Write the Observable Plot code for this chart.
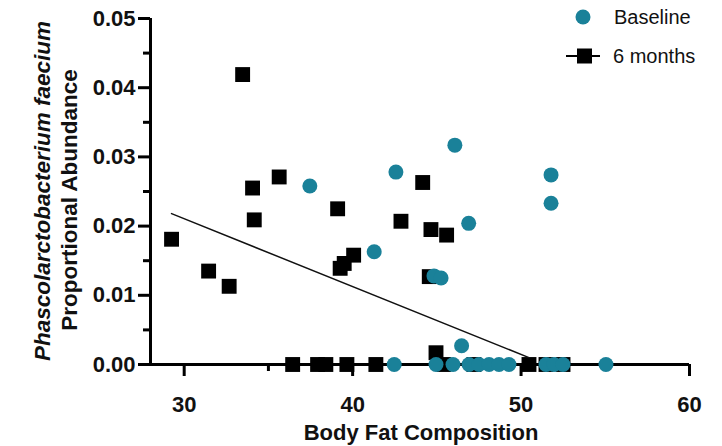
<!DOCTYPE html>
<html>
<head>
<meta charset="utf-8">
<script src="https://cdn.jsdelivr.net/npm/d3@7"></script>
<script src="https://cdn.jsdelivr.net/npm/@observablehq/plot@0.6"></script>
<style>
  html, body { margin: 0; padding: 0; background: #fff; }
  #chart { width: 722px; height: 446px; }
</style>
</head>
<body>
<div id="chart"></div>
<script>
// Baseline (teal circles)
const baselineX = [37.46, 42.57, 46.07, 41.28, 46.89, 51.78, 51.78, 44.83, 45.25, 46.47,
  42.47, 44.95, 45.96, 46.91, 47.5, 48.1, 48.69, 49.28, 51.48, 51.96, 52.49, 55.04];
const baselineY = [0.0258, 0.0278, 0.0317, 0.0163, 0.0204, 0.0274, 0.0233, 0.0128, 0.0125, 0.0027,
  0, 0, 0, 0, 0, 0, 0, 0, 0, 0, 0, 0];

// 6 months (black squares)
const monthX = [29.25, 31.45, 32.67, 33.47, 34.06, 34.16, 35.64, 39.11, 39.26, 39.5, 40.06,
  42.87, 44.16, 44.65, 45.58, 44.55, 44.95,
  36.44, 37.92, 38.41, 39.66, 41.38, 45.42, 47.2, 50.47, 51.48, 52.49];
const monthY = [0.0181, 0.0135, 0.0113, 0.0419, 0.0255, 0.0209, 0.0271, 0.0225, 0.0139, 0.0146, 0.0158,
  0.0207, 0.0263, 0.0195, 0.0187, 0.0127, 0.0017,
  0, 0, 0, 0, 0, 0, 0, 0, 0, 0];

// fitted line (endpoints)
const fitX = [29.25, 50.47];
const fitY = [0.0218, 0.0010];

const xTicks = [30, 40, 50, 60];
const xMinor = [35, 45, 55];
const yTicks = [0, 0.01, 0.02, 0.03, 0.04, 0.05];
const yMinor = [0.005, 0.015, 0.025, 0.035, 0.045];

const seriesNames = ["Baseline", "6 months"];
const xLabel = "Body Fat Composition";
const yLabel1 = "Phascolarctobacterium faecium";
const yLabel2 = "Proportional Abundance";

const teal = "#1a8199";

const baseline = baselineX.map((x, i) => ({x, y: baselineY[i]}));
const months = monthX.map((x, i) => ({x, y: monthY[i]}));
const fit = fitX.map((x, i) => ({x, y: fitY[i]}));

const font = "'Liberation Sans', Arial, sans-serif";

const plot = Plot.plot({
  width: 722,
  height: 446,
  marginLeft: 150,
  marginRight: 33,
  marginTop: 18,
  marginBottom: 82,
  style: {fontFamily: font, background: "#fff", overflow: "visible"},
  x: {domain: [28, 60]},
  y: {domain: [0, 0.05]},
  marks: [
    Plot.axisX({ticks: xTicks, tickSize: 12, tickPadding: 20, strokeWidth: 3, stroke: "#000",
      fill: "#111", fontSize: 22, fontWeight: "bold", tickFormat: d => String(d), label: null}),
    Plot.axisX({ticks: xMinor, tickSize: 7, strokeWidth: 3, stroke: "#000", tickFormat: () => "", label: null}),
    Plot.axisY({ticks: yTicks, tickSize: 12, tickPadding: 3, strokeWidth: 3, stroke: "#000",
      fill: "#111", fontSize: 22, fontWeight: "bold", tickFormat: d3.format(".2f"), label: null}),
    Plot.axisY({ticks: yMinor, tickSize: 7, strokeWidth: 3, stroke: "#000", tickFormat: () => "", label: null}),
    Plot.ruleY([0], {stroke: "#000", strokeWidth: 3}),
    Plot.ruleX([28], {stroke: "#000", strokeWidth: 3}),
    Plot.dot(months, {x: "x", y: "y", symbol: "square", r: 8.4, fill: "#000", stroke: null}),
    Plot.line(fit, {x: "x", y: "y", stroke: "#111", strokeWidth: 1.5}),
    Plot.dot(baseline, {x: "x", y: "y", symbol: "circle", r: 7.5, fill: teal, stroke: null})
  ]
});

document.getElementById("chart").appendChild(plot);

const svg = d3.select(plot);
// axis labels
svg.append("text")
  .attr("transform", "translate(421,440)")
  .attr("text-anchor", "middle")
  .attr("font-family", font).attr("font-size", 22).attr("font-weight", "bold").attr("fill", "#111")
  .text(xLabel);
svg.append("text")
  .attr("transform", "translate(50,191) rotate(-90)")
  .attr("text-anchor", "middle")
  .attr("font-family", font).attr("font-size", 22.5).attr("font-weight", "bold")
  .attr("font-style", "italic").attr("fill", "#111")
  .text(yLabel1);
svg.append("text")
  .attr("transform", "translate(77,200) rotate(-90)")
  .attr("text-anchor", "middle")
  .attr("font-family", font).attr("font-size", 22.5).attr("font-weight", "bold").attr("fill", "#111")
  .text(yLabel2);

// legend
const lg = svg.append("g").attr("font-family", font).attr("font-size", 20).attr("fill", "#111")
  .attr("text-anchor", "start");
lg.append("circle").attr("cx", 583).attr("cy", 17).attr("r", 7.5).attr("fill", teal);
lg.append("text").attr("x", 614).attr("y", 24).attr("text-anchor", "start").text(seriesNames[0]);
lg.append("line").attr("x1", 566).attr("x2", 600).attr("y1", 56).attr("y2", 56)
  .attr("stroke", "#000").attr("stroke-width", 2);
lg.append("rect").attr("x", 577).attr("y", 48.5).attr("width", 15).attr("height", 15).attr("fill", "#000");
lg.append("text").attr("x", 613).attr("y", 63).attr("text-anchor", "start").text(seriesNames[1]);
</script>
</body>
</html>
